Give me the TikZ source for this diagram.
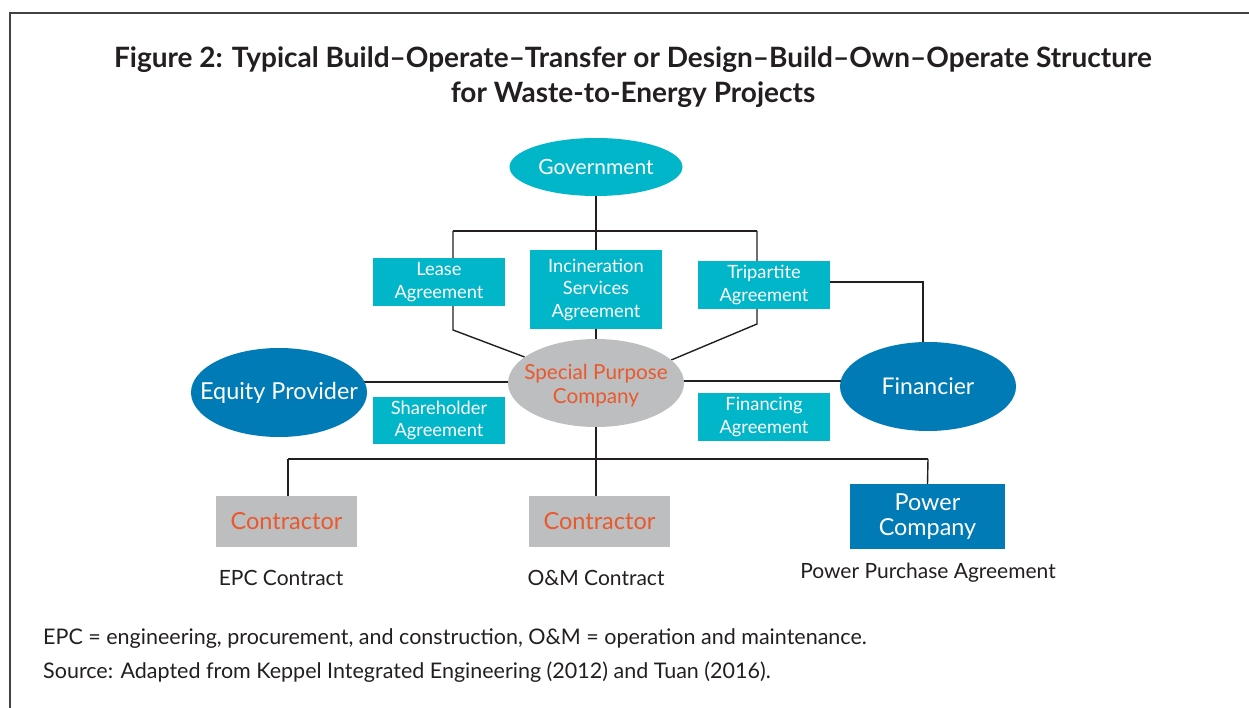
\documentclass[tikz,border=0pt]{standalone}
\usepackage{fontspec}
\setmainfont{Lato}
\usetikzlibrary{shapes.geometric}
\definecolor{wteTeal}{RGB}{0,182,200}
\definecolor{wteBlue}{RGB}{0,123,182}
\definecolor{wteGray}{RGB}{188,190,192}
\definecolor{wteOrange}{RGB}{234,88,44}
\definecolor{wteInk}{RGB}{35,31,32}
\pgfdeclarelayer{paper}
\pgfdeclarelayer{background}
\pgfsetlayers{paper,background,main}
\tikzset{
  ell/.style={ellipse, inner sep=0pt},
  elltext/.style={align=center, text=white, inner sep=0pt},
  box/.style={rectangle, inner sep=0pt, align=center, text=white, fill=wteTeal,
    minimum width=132pt, font=\fontsize{18.3}{22.5}\selectfont},
  partybox/.style={rectangle, inner sep=0pt, align=center},
  link/.style={draw=wteInk, line width=1.4pt},
  caption/.style={text=wteInk, inner sep=0pt, font=\fontsize{21}{25}\selectfont},
  note/.style={text=wteInk, inner sep=0pt, font=\fontsize{21.5}{25}\selectfont},
}
\begin{document}
\begin{tikzpicture}[x=1pt,y=-1pt]
\useasboundingbox (0,0) rectangle (1249,708);
\begin{pgfonlayer}{paper}
  \fill[white] (0,0) rectangle (1249,708);
\end{pgfonlayer}
% open frame around the figure
\draw[draw=wteInk!85, line width=1.5pt] (10,730) -- (10,13) -- (1270,13);

% title
\node[text=wteInk, align=center, font=\bfseries\fontsize{28}{35}\selectfont] (title) at (633,77.5)
  {Figure 2: Typical Build--Operate--Transfer or Design--Build--Own--Operate Structure\\
   for Waste-to-Energy Projects};

% parties (ellipses keep a fixed size; their names sit on top as centred labels)
\node[ell, fill=wteTeal, minimum width=173pt, minimum height=58pt,
  label={[elltext, font=\fontsize{21}{25}\selectfont]center:Government}] (gov) at (596,167) {};
\node[ell, fill=wteGray, minimum width=176pt, minimum height=88pt,
  label={[elltext, text=wteOrange, yshift=-3pt, font=\fontsize{20.7}{24}\selectfont]center:Special Purpose\\Company}]
  (spc) at (596,383) {};
\node[ell, fill=wteBlue, minimum width=176pt, minimum height=89pt,
  label={[elltext, font=\fontsize{23.4}{27}\selectfont]center:Equity Provider}] (eq) at (279,392.5) {};
\node[ell, fill=wteBlue, minimum width=176pt, minimum height=89pt,
  label={[elltext, font=\fontsize{23}{27}\selectfont]center:Financier}] (financier) at (928,386.5) {};

% agreements
\node[box, minimum height=48pt] (lease) at (439,282) {Lease\\Agreement};
\node[box, minimum height=79pt] (incin) at (596,289.5) {Incineration\\Services\\Agreement};
\node[box, minimum height=48pt] (tri) at (764,285) {Tripartite\\Agreement};
\node[box, minimum height=47pt] (share) at (439,420.5) {Shareholder\\Agreement};
\node[box, minimum height=48pt] (finag) at (764,417) {Financing\\Agreement};

% contractors and offtaker
\node[partybox, fill=wteGray, text=wteOrange, minimum width=141pt, minimum height=51pt,
  font=\fontsize{23.5}{27}\selectfont] (con1) at (286.5,521.5) {Contractor};
\node[partybox, fill=wteGray, text=wteOrange, minimum width=141pt, minimum height=51pt,
  font=\fontsize{23.5}{27}\selectfont] (con2) at (599.5,521.5) {Contractor};
\node[partybox, fill=wteBlue, text=white, minimum width=155pt, minimum height=65pt,
  font=\fontsize{23.4}{25}\selectfont] (power) at (927.5,516.5) {Power\\Company};

% contract labels
\node[caption] (epc) at (281,578) {EPC Contract};
\node[caption] (om) at (596,578) {O\&M Contract};
\node[caption] (ppa) at (928,573) {Power Purchase Agreement};

% notes
\node[note, anchor=west] (abbr) at (43,639)
  {EPC = engineering, procurement, and construction, O\&M = operation and maintenance.};
\node[note, anchor=west] (src) at (43,672)
  {Source: Adapted from Keppel Integrated Engineering (2012) and Tuan (2016).};

% connectors
\coordinate (jL) at (453,231);
\coordinate (jR) at (757,231);
\coordinate (kL) at (453,330);
\coordinate (kR) at (757,324);
\coordinate (bL) at (288,459);
\coordinate (bR) at (928,459);
\begin{pgfonlayer}{background}
  \draw[link] (gov.center) -- (spc.center);
  \draw[link] (jL) -- (jR);
  \draw[link] (jL) -- (kL) -- (spc.160);
  \draw[link] (jR) -- (kR) -- (spc.17);
  \draw[link] (tri.center |- 0,282) -| ([xshift=-5pt]financier.center);
  \draw[link] (eq.center |- 0,382) -- (spc.center |- 0,382);
  \draw[link] (spc.center |- 0,381) -- (financier.center |- 0,381);
  \draw[link] (spc.center) -- (spc.center |- con2.north);
  \draw[link] (bL) -- (bR);
  \draw[link] (bL) -- (bL |- con1.north);
  \draw[link] (bR) -- (power.north);
\end{pgfonlayer}
\end{tikzpicture}
\end{document}
